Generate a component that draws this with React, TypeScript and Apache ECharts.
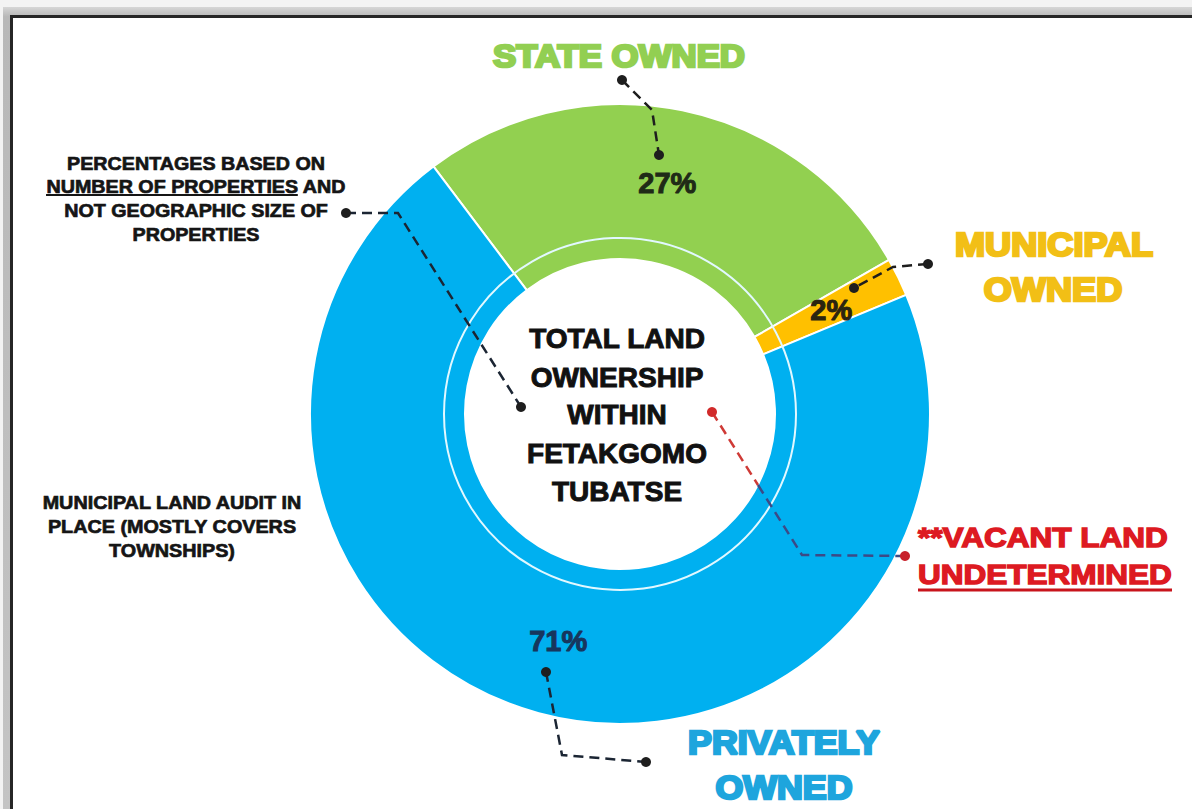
import React, { useEffect, useRef } from "react";
import * as echarts from "echarts";

// Land ownership shares (% of number of properties)
const CATEGORIES = ["STATE OWNED", "MUNICIPAL OWNED", "PRIVATELY OWNED"];
const SHARES = [27, 2, 71];
const SLICE_COLORS = ["#92D050", "#FFC000", "#00B0F0"];
const VALUE_LABEL_COLORS = ["#1f2a17", "#2b2410", "#17365d"];

const CENTER_TITLE = ["TOTAL LAND", "OWNERSHIP", "WITHIN", "FETAKGOMO", "TUBATSE"];
const NOTE_BASIS = [
  "PERCENTAGES BASED ON",
  "NUMBER OF PROPERTIES AND",
  "NOT GEOGRAPHIC SIZE OF",
  "PROPERTIES",
];
const NOTE_AUDIT = ["MUNICIPAL LAND AUDIT IN", "PLACE (MOSTLY COVERS", "TOWNSHIPS)"];
const VACANT_NOTE = ["**VACANT LAND", "UNDETERMINED"];

const FONT = '"Liberation Sans", Arial, Helvetica, sans-serif';
const CX = 620;
const CY = 414;

let measureCtx: CanvasRenderingContext2D | null = null;
function measure(s: string, size: number): number {
  if (!measureCtx) measureCtx = document.createElement("canvas").getContext("2d");
  if (!measureCtx) return s.length * size * 0.65;
  measureCtx.font = `bold ${size}px ${FONT}`;
  return measureCtx.measureText(s).width;
}

type TextOpts = {
  align?: "left" | "center" | "right";
  width?: number; // desired drawn width, achieved by horizontal scaling
  scale?: number;
  stroke?: number;
  z?: number;
};

function text(s: string, x: number, y: number, size: number, color: string, o: TextOpts = {}) {
  const w = measure(s, size);
  const sx = o.scale ?? (o.width ? o.width / w : 1);
  const align = o.align ?? "center";
  return {
    type: "text",
    x,
    y,
    scaleX: sx,
    z: o.z ?? 20,
    silent: true,
    style: {
      text: s,
      fontSize: size,
      fontWeight: "bold",
      fontFamily: FONT,
      fill: color,
      stroke: o.stroke ? color : undefined,
      lineWidth: o.stroke ?? 0,
      align,
      textAlign: align,
      verticalAlign: "middle",
      textVerticalAlign: "middle",
    },
  };
}

function dashed(points: number[][], color: string, z = 15) {
  return {
    type: "polyline",
    z,
    silent: true,
    shape: { points },
    style: { stroke: color, lineWidth: 2.5, lineDash: [10, 6], fill: null },
  };
}

function dot(x: number, y: number, color: string, r = 5) {
  return {
    type: "circle",
    z: 16,
    silent: true,
    shape: { cx: x, cy: y, r },
    style: { fill: color },
  };
}

function hline(x1: number, x2: number, y: number, color: string, w: number) {
  return {
    type: "line",
    z: 20,
    silent: true,
    shape: { x1, y1: y, x2, y2: y },
    style: { stroke: color, lineWidth: w },
  };
}

function buildGraphics() {
  const els: any[] = [];

  // page frame
  els.push({ type: "rect", z: 0, silent: true, shape: { x: 0, y: 0, width: 1192, height: 809 }, style: { fill: "#f3f3f3" } });
  els.push({
    type: "rect", z: 0, silent: true,
    shape: { x: 3, y: 7, width: 1189, height: 802 },
    style: {
      fill: new echarts.graphic.LinearGradient(0, 0, 0, 1, [
        { offset: 0, color: "#d6d6d6" },
        { offset: 0.012, color: "#b8b8b8" },
        { offset: 1, color: "#c4c4c4" },
      ]),
    },
  });
  els.push({ type: "rect", z: 0, silent: true, shape: { x: 10, y: 15, width: 1182, height: 794 }, style: { fill: "#262626" } });
  els.push({ type: "rect", z: 0, silent: true, shape: { x: 13, y: 18, width: 1179, height: 791 }, style: { fill: "#ffffff" } });

  // thin inner ring across the donut
  els.push({
    type: "circle",
    z: 12,
    silent: true,
    shape: { cx: CX, cy: CY, r: 176 },
    style: { fill: null, stroke: "#e2f8ff", lineWidth: 2 },
  });

  // centre title
  const titleY = [338, 377, 414, 453, 491];
  CENTER_TITLE.forEach((s, i) => {
    els.push(text(s, 617, titleY[i], 28, "#111111", { scale: 1.0, stroke: 1 }));
  });

  // note: basis of percentages
  const basisScale = 258 / measure(NOTE_BASIS[0], 19);
  const basisY = [163, 186.5, 210.5, 234];
  NOTE_BASIS.forEach((s, i) => {
    els.push(text(s, 196, basisY[i], 19, "#151515", { scale: basisScale, stroke: 0.7 }));
  });
  {
    const full = measure(NOTE_BASIS[1], 19) * basisScale;
    const part = measure("NUMBER OF PROPERTIES", 19) * basisScale;
    const x0 = 196 - full / 2;
    els.push(hline(x0, x0 + part, 195, "#151515", 2));
  }

  // note: land audit
  const auditScale = 260 / measure(NOTE_AUDIT[0], 19);
  const auditY = [502.5, 526, 550];
  NOTE_AUDIT.forEach((s, i) => {
    els.push(text(s, 172, auditY[i], 19, "#151515", { scale: auditScale, stroke: 0.7 }));
  });

  // category titles
  els.push(text(CATEGORIES[0], 619, 56, 32, "#92cf52", { width: 252, stroke: 2.6 }));
  els.push(text("MUNICIPAL", 1054, 245, 33, "#f2bf16", { width: 198, stroke: 2.6 }));
  els.push(text("OWNED", 1053, 290, 33, "#f2bf16", { scale: 198 / measure("MUNICIPAL", 33), stroke: 2.6 }));
  const privScale = 192 / measure("PRIVATELY", 33);
  els.push(text("PRIVATELY", 784, 742, 33, "#1ea5dd", { scale: privScale, stroke: 2.6 }));
  els.push(text("OWNED", 784, 787, 33, "#1ea5dd", { scale: privScale, stroke: 2.6 }));

  // vacant land note
  const vacScale = 254 / measure(VACANT_NOTE[1], 28);
  els.push(text(VACANT_NOTE[0], 918, 537, 28, "#dd1a22", { align: "left", scale: vacScale, stroke: 1.4 }));
  els.push(text(VACANT_NOTE[1], 918, 574, 28, "#dd1a22", { align: "left", scale: vacScale, stroke: 1.4 }));
  els.push(hline(918, 918 + measure(VACANT_NOTE[1], 28) * vacScale, 590, "#c8141c", 3));

  // leader lines
  const ink = "#1e1e1e";
  els.push(dashed([[622, 80], [652, 110], [659, 155]], ink));
  els.push(dot(622, 80, ink), dot(659, 155, ink));

  els.push(dashed([[928, 264], [893, 267], [854, 288]], ink));
  els.push(dot(928, 264, ink), dot(854, 288, ink));

  els.push(dashed([[346, 213], [398, 213], [521, 407]], "#1b2533"));
  els.push(dot(346, 213, ink), dot(521, 407, ink));

  els.push(dashed([[712, 412], [758, 485]], "#cf3a36"));
  els.push(dashed([[758, 485], [802, 555], [905, 556]], "#3c4a86"));
  els.push(dot(712, 412, "#d12a2a"), dot(905, 556, "#c8202a"));

  els.push(dashed([[546, 672], [562, 755], [646, 762]], "#1b2533"));
  els.push(dot(546, 672, ink), dot(646, 762, ink));

  return els;
}

export default function App() {
  const ref = useRef<HTMLDivElement>(null);

  useEffect(() => {
    if (!ref.current) return;
    const chart = echarts.init(ref.current, null, { renderer: "svg" });
    chart.setOption({
      animation: false,
      backgroundColor: "transparent",
      graphic: { elements: buildGraphics() },
      series: [
        {
          type: "pie",
          z: 5,
          silent: true,
          center: [CX, CY],
          radius: [155, 310],
          startAngle: 127,
          clockwise: true,
          avoidLabelOverlap: false,
          itemStyle: { borderColor: "#ffffff", borderWidth: 2 },
          label: {
            show: true,
            position: "inside",
            formatter: "{c}%",
            fontSize: 29,
            fontWeight: "bold",
            fontFamily: FONT,
            textBorderWidth: 1,
            textBorderColor: "inherit",
          },
          labelLine: { show: false },
          data: CATEGORIES.map((name, i) => ({
            name,
            value: SHARES[i],
            itemStyle: { color: SLICE_COLORS[i] },
            label: { color: VALUE_LABEL_COLORS[i], textBorderColor: VALUE_LABEL_COLORS[i] },
          })),
        },
      ],
    });
    return () => chart.dispose();
  }, []);

  return (
    <div
      ref={ref}
      style={{ position: "absolute", left: 0, top: 0, width: 1192, height: 809 }}
    />
  );
}
